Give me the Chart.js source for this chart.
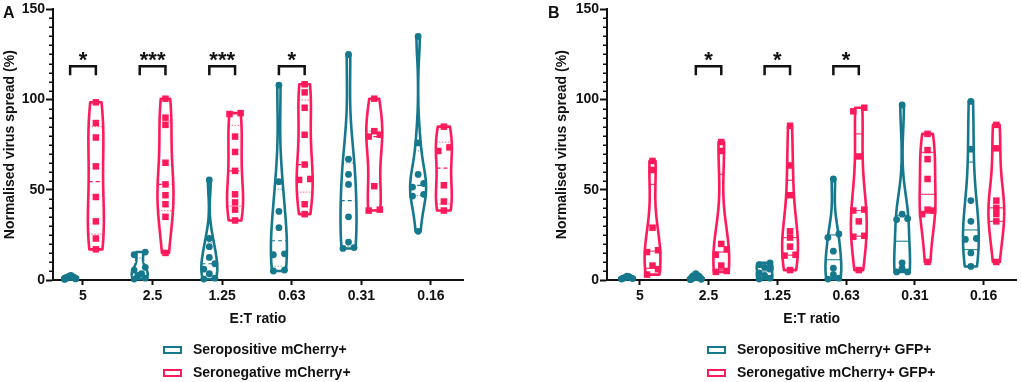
<!DOCTYPE html>
<html>
<head>
<meta charset="utf-8">
<script src="https://cdn.jsdelivr.net/npm/chart.js@4.4.1/dist/chart.umd.min.js"></script>
<style>
body { margin: 0; background: #fff; width: 1021px; height: 382px; overflow: hidden; position: relative; font-family: 'Liberation Sans', Arial, sans-serif; }
.panel { position: absolute; top: 0; height: 382px; }
#wrapA { left: 0; width: 510px; }
#wrapB { left: 510px; width: 511px; }
.lg { position: absolute; font: bold 14px 'Liberation Sans', Arial, sans-serif; color: #111; white-space: nowrap; line-height: 16px; }
.lg i { position: absolute; left: -30px; top: 5px; width: 15px; height: 4px; border: 2px solid; background: #fff; }
.pl { position: absolute; font: bold 16px 'Liberation Sans', Arial, sans-serif; line-height: 16px; color: #111; }
</style>
</head>
<body>
<div class="panel" id="wrapA"><canvas id="chartA" width="510" height="382"></canvas></div>
<div class="panel" id="wrapB"><canvas id="chartB" width="511" height="382"></canvas></div>
<div class="pl" style="left:3px;top:5px">A</div>
<div class="pl" style="left:548px;top:5px">B</div>
<div class="lg" style="left:193px;top:341px"><i style="border-color:#15788d"></i>Seropositive mCherry+</div>
<div class="lg" style="left:193px;top:364px"><i style="border-color:#fe1a5b"></i>Seronegative mCherry+</div>
<div class="lg" style="left:737px;top:341px"><i style="border-color:#15788d"></i>Seropositive mCherry+ GFP+</div>
<div class="lg" style="left:737px;top:364px"><i style="border-color:#fe1a5b"></i>Seronegative mCherry+ GFP+</div>
<script>
// E:T ratios (x categories)
const etRatios = ['5', '2.5', '1.25', '0.63', '0.31', '0.16'];

// panel A - mCherry+ (values in %)
const seroPosA = [
    [2.6, 2.2, 1.8, 1.5, 1.2, 0.9, 0.6, 0.3],
    [15.5, 14, 7, 5.5, 3.5, 2.5, 1, 0.5],
    [55.5, 23, 18.5, 12.5, 9, 6, 3.5, 1, 0.5],
    [108, 54.5, 38, 29, 14.5, 14, 5.5, 5],
    [125, 67, 58.5, 53, 35, 21, 18, 17.5],
    [135, 76, 58.5, 53.5, 51.5, 47.5, 46.5, 27]
];
const seroNegA = [
    [98.5, 87, 79, 63, 46, 32.5, 23, 17],
    [100.5, 90, 86, 65, 53, 47, 42, 35, 15],
    [92.5, 92, 79.5, 71, 60.5, 47.5, 43, 39, 33],
    [108.5, 104, 95.5, 80.5, 64, 56, 55.5, 42, 36.5],
    [100.5, 82.5, 80.5, 79.5, 52, 39, 38.5],
    [85, 73.5, 71.5, 52.5, 43.5, 38.5]
];
const starsA = ['*', '***', '***', '*', '', ''];

// panel B - mCherry+ GFP+
const seroPosB = [
    [2.2, 1.8, 1.5, 1.2, 1, 0.8, 0.5],
    [3.5, 2.8, 2.2, 1.6, 1.1, 0.7, 0.4, 0.2],
    [9.5, 8.5, 7, 6, 4, 2.5, 1, 0.5],
    [56, 25.5, 23.5, 16, 6.5, 3, 1, 0.5],
    [97, 36.5, 34, 33.5, 9.5, 6.5, 4.5, 4.5],
    [99, 72.5, 44, 32.5, 23, 22.5, 15, 7.5]
];
const seroNegB = [
    [66, 61, 29, 16.5, 15.5, 8, 6, 3],
    [76.5, 71.5, 20, 17, 14, 8, 5, 4.5],
    [85.5, 63.5, 47, 27, 23.5, 18.5, 14, 13.5, 5.5],
    [95.5, 93.5, 68.5, 39, 38.5, 32.5, 24.5, 24, 5.5],
    [81, 72, 67, 56, 39, 38.5, 36.5, 10],
    [86, 73, 44, 40, 36.5, 32.5, 10]
];
const starsB = ['', '*', '*', '*', '', ''];

const TEAL = '#15788d';
const PINK = '#fe1a5b';
const OFF = 0.185;   // offset of each violin from the category
const HALF = 0.115;  // max half width of a violin

Chart.defaults.font.family = "'Liberation Sans', Arial, sans-serif";
Chart.defaults.color = '#111';

function quantile(sorted, p) {
    // (n+1) method like prism
    const pos = (sorted.length + 1) * p - 1;
    const lo = Math.max(0, Math.min(sorted.length - 1, Math.floor(pos)));
    const hi = Math.max(0, Math.min(sorted.length - 1, Math.ceil(pos)));
    return sorted[lo] + (sorted[hi] - sorted[lo]) * (pos - Math.floor(pos));
}

function makeKde(vals) {
    const n = vals.length;
    const s = vals.slice().sort((a, b) => a - b);
    const mean = s.reduce((a, b) => a + b, 0) / n;
    const sd = Math.sqrt(s.reduce((a, b) => a + (b - mean) ** 2, 0) / (n - 1));
    const iqr = quantile(s, 0.75) - quantile(s, 0.25);
    let spread = Math.min(sd, iqr / 1.34);
    if (!(spread > 0)) spread = sd;
    const h = 0.9 * spread * Math.pow(n, -0.2);
    const dens = v => s.reduce((a, u) => a + Math.exp(-0.5 * ((v - u) / h) ** 2), 0);
    const pts = [];
    for (let k = 0; k <= 80; k++) {
        const v = s[0] + (s[n - 1] - s[0]) * k / 80;
        pts.push({ v: v, d: dens(v) });
    }
    const m = Math.max(...pts.map(p => p.d));
    return {
        pts: pts.map(p => ({ v: p.v, d: p.d / m })),
        at: v => dens(v) / m,
        sorted: s
    };
}

// spread points that sit at about the same height
function pointData(groups, side) {
    const out = [];
    groups.forEach((vals, i) => {
        const s = vals.slice().sort((a, b) => a - b);
        let cl = [];
        const flush = () => {
            const k = cl.length;
            const step = k > 1 ? Math.min(0.16, 0.16 / (k - 1)) : 0;
            // alternate left / right so a tight cluster looks like a blob
            const order = cl.map((v, j) => j % 2 === 0 ? j / 2 : k - 1 - (j - 1) / 2);
            cl.forEach((v, j) => out.push({ x: i + side + (order[j] - (k - 1) / 2) * step, y: v }));
            cl = [];
        };
        s.forEach(v => {
            if (cl.length && v - cl[0] > 3) flush();
            cl.push(v);
        });
        flush();
    });
    return out;
}

const violinPlugin = {
    id: 'violins',
    beforeDatasetsDraw(chart, args, opts) {
        const ctx = chart.ctx;
        const x = chart.scales.x, y = chart.scales.y;
        opts.groups.forEach(g => {
            g.values.forEach((vals, i) => {
                const kd = makeKde(vals);
                const cx = i + g.side;
                ctx.save();
                ctx.beginPath();
                kd.pts.forEach((p, k) => {
                    const px = x.getPixelForValue(cx + p.d * HALF), py = y.getPixelForValue(p.v);
                    if (k === 0) ctx.moveTo(px, py); else ctx.lineTo(px, py);
                });
                for (let k = kd.pts.length - 1; k >= 0; k--) {
                    const p = kd.pts[k];
                    ctx.lineTo(x.getPixelForValue(cx - p.d * HALF), y.getPixelForValue(p.v));
                }
                ctx.closePath();
                ctx.fillStyle = '#fff';
                ctx.fill();
                ctx.lineWidth = 2.6;
                ctx.lineJoin = 'round';
                ctx.strokeStyle = g.color;
                ctx.stroke();
                // median + quartiles
                [0.25, 0.5, 0.75].forEach(q => {
                    const v = quantile(kd.sorted, q);
                    const w = kd.at(v) * HALF;
                    const py = y.getPixelForValue(v);
                    ctx.beginPath();
                    ctx.moveTo(x.getPixelForValue(cx - w), py);
                    ctx.lineTo(x.getPixelForValue(cx + w), py);
                    ctx.strokeStyle = g.color;
                    if (opts.dashed) {
                        ctx.globalAlpha = q === 0.5 ? 1 : 0.55;
                        ctx.setLineDash(q === 0.5 ? [4, 3] : [1.5, 1.5]);
                        ctx.lineWidth = 1.2;
                    } else {
                        ctx.globalAlpha = 0.85;
                        ctx.setLineDash([]);
                        ctx.lineWidth = 1.2;
                    }
                    ctx.stroke();
                });
                ctx.restore();
            });
        });
    },
    afterDraw(chart, args, opts) {
        const ctx = chart.ctx;
        const x = chart.scales.x, y = chart.scales.y;
        ctx.save();
        // minor ticks on y axis
        ctx.strokeStyle = '#111';
        ctx.lineWidth = 1.5;
        const ax = chart.chartArea.left;
        for (let v = 5; v < 150; v += 5) {
            if (v % 50 === 0) continue;
            const py = Math.round(y.getPixelForValue(v)) + 0.25;
            ctx.beginPath();
            ctx.moveTo(ax - 4, py);
            ctx.lineTo(ax, py);
            ctx.stroke();
        }
        // significance brackets
        ctx.lineWidth = 2.5;
        ctx.lineJoin = 'miter';
        ctx.fillStyle = '#111';
        ctx.font = "bold 22px 'Liberation Sans', Arial, sans-serif";
        ctx.textAlign = 'center';
        ctx.textBaseline = 'alphabetic';
        opts.stars.forEach((s, i) => {
            if (!s) return;
            const x1 = x.getPixelForValue(i - OFF), x2 = x.getPixelForValue(i + OFF);
            const yt = y.getPixelForValue(118.5), yl = y.getPixelForValue(113.5);
            ctx.beginPath();
            ctx.moveTo(x1, yl);
            ctx.lineTo(x1, yt);
            ctx.lineTo(x2, yt);
            ctx.lineTo(x2, yl);
            ctx.stroke();
            ctx.fillText(s, (x1 + x2) / 2, yt + 1);
        });
        ctx.restore();
    }
};

function makePanel(id, pos, neg, stars, xmin, xmax, padLeft, padRight, yWidth, dashed) {
    const context = document.getElementById(id).getContext('2d');
    return new Chart(context, {
        type: 'scatter',
        data: {
            datasets: [{
                data: pointData(pos, -OFF),
                pointStyle: 'circle',
                pointRadius: 3.4,
                backgroundColor: TEAL,
                borderWidth: 0,
                clip: false
            }, {
                data: pointData(neg, OFF),
                pointStyle: 'rect',
                pointRadius: 4.6,
                backgroundColor: PINK,
                borderWidth: 0,
                clip: false
            }]
        },
        options: {
            responsive: false,
            animation: false,
            events: [],
            layout: { padding: { left: padLeft, right: padRight, top: 0, bottom: 52 } },
            plugins: {
                legend: { display: false },
                tooltip: { enabled: false },
                violins: {
                    dashed: dashed,
                    stars: stars,
                    groups: [
                        { values: pos, side: -OFF, color: TEAL },
                        { values: neg, side: OFF, color: PINK }
                    ]
                }
            },
            scales: {
                x: {
                    type: 'linear',
                    min: xmin,
                    max: xmax,
                    afterBuildTicks: scale => { scale.ticks = etRatios.map((_, i) => ({ value: i })); },
                    afterFit: scale => { scale.height = 50; },
                    ticks: {
                        callback: v => etRatios[v],
                        font: { size: 14, weight: 'bold' },
                        color: '#111',
                        padding: 3,
                        maxRotation: 0,
                        autoSkip: false
                    },
                    grid: { drawOnChartArea: false, tickLength: 5, tickWidth: 2, tickColor: '#111' },
                    border: { width: 2, color: '#111' },
                    title: {
                        display: true,
                        text: 'E:T ratio',
                        font: { size: 14, weight: 'bold' },
                        color: '#111',
                        padding: { top: 0, bottom: 2 }
                    }
                },
                y: {
                    min: 0,
                    max: 150,
                    afterFit: scale => { scale.width = yWidth; },
                    ticks: {
                        stepSize: 50,
                        font: { size: 14, weight: 'bold' },
                        color: '#111',
                        padding: 1
                    },
                    grid: { drawOnChartArea: false, tickLength: 7, tickWidth: 2, tickColor: '#111' },
                    border: { width: 2, color: '#111' },
                    title: {
                        display: true,
                        text: 'Normalised virus spread (%)',
                        font: { size: 14, weight: 'bold' },
                        color: '#111',
                        padding: { top: 0, bottom: 0 }
                    }
                }
            }
        },
        plugins: [violinPlugin]
    });
}

window.addEventListener('load', () => {
    makePanel('chartA', seroPosA, seroNegA, starsA, -0.431, 5.46, 2, 47, 51, true);
    makePanel('chartB', seroPosB, seroNegB, starsB, -0.477, 5.477, 44, 2, 53, false);
});
</script>
</body>
</html>
